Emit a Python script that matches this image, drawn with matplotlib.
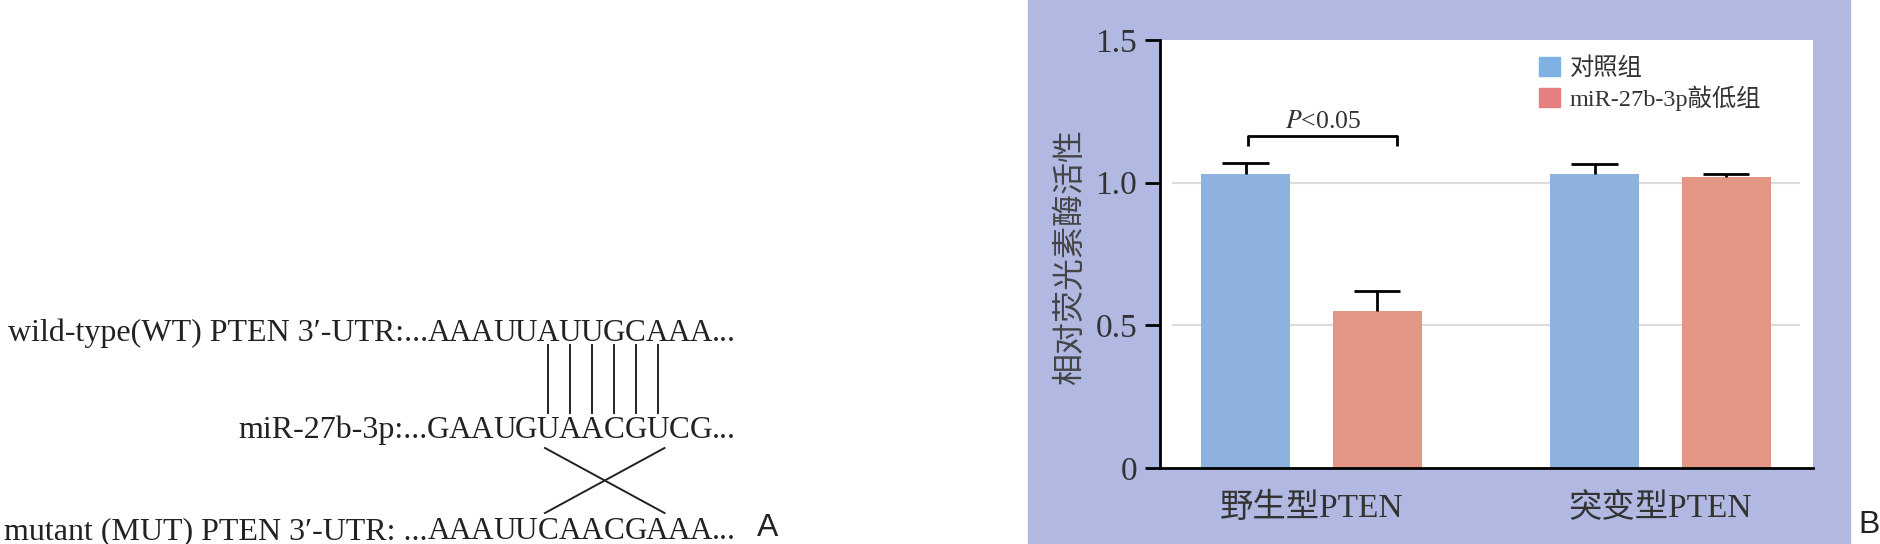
import matplotlib
matplotlib.use("Agg")
import matplotlib.pyplot as plt
from matplotlib.patches import Rectangle, Patch
import numpy as np

plt.rcParams['font.family'] = ['Liberation Serif', 'Noto Sans CJK SC', 'DejaVu Sans']
plt.rcParams['mathtext.fontset'] = 'stix'

# ---------------- data ----------------
groups = ['野生型PTEN', '突变型PTEN']
series_names = ['对照组', 'miR-27b-3p敲低组']
ctrl_vals = [1.03, 1.03]
ctrl_err = [0.04, 0.035]
kd_vals = [0.55, 1.02]
kd_err = [0.07, 0.01]
yticks = [0, 0.5, 1.0, 1.5]
ytick_labels = ['0', '0.5', '1.0', '1.5']
ylabel = '相对荧光素酶活性'
sig_text = '$\\mathit{P}$<0.05'

wt_prefix = 'wild-type(WT) PTEN 3\u2032-UTR:...'
mir_prefix = 'miR-27b-3p:...'
mut_prefix = 'mutant (MUT) PTEN 3\u2032-UTR: ...'
wt_seq = 'AAAUUAUUGCAAA'
mir_seq = 'GAAUGUAACGUCG'
mut_seq = 'AAAUUCAACGAAA'
pair_idx = [5, 6, 7, 8, 9, 10]
cross_idx = (5, 10)

# ---------------- colours ----------------
purple = '#b1b9e3'
bar_blue = '#8db2de'
bar_red = '#e49684'
leg_blue = '#7fb2e3'
leg_red = '#e67f7f'
grid_c = '#dcdcdc'
txt_c = '#333333'

W, H = 1880, 544
fig = plt.figure(figsize=(W / 100, H / 100), dpi=100)


def fx(px):
    return px / W


def fy(py):
    return 1 - py / H


# ---------------- panel A (sequence diagram) ----------------
seq_c = '#222222'
fs_pre = 23
fs_a = 22.5
pitch = 21.9
x0 = 438.5
rows = [(341, wt_prefix, wt_seq), (438, mir_prefix, mir_seq), (539, mut_prefix, mut_seq)]
for base, pre, seq in rows:
    fig.text(fx(428), fy(base), pre, ha='right', va='baseline', fontsize=fs_pre, color=seq_c)
    for i, ch in enumerate(seq):
        fig.text(fx(x0 + i * pitch), fy(base), ch, ha='center', va='baseline',
                 fontsize=fs_a, color=seq_c)
    fig.text(fx(x0 + (len(seq) - 1) * pitch + 11), fy(base), '...', ha='left',
             va='baseline', fontsize=fs_pre, color=seq_c)

for i in pair_idx:
    xx = fx(x0 + i * pitch)
    fig.add_artist(plt.Line2D([xx, xx], [fy(345), fy(413)], color=seq_c, lw=1.4,
                              transform=fig.transFigure))
a, b = cross_idx
xa = fx(x0 + a * pitch - 3)
xb = fx(x0 + b * pitch + 7)
fig.add_artist(plt.Line2D([xa, xb], [fy(448), fy(513)], color=seq_c, lw=1.4,
                          transform=fig.transFigure))
fig.add_artist(plt.Line2D([xb, xa], [fy(448), fy(513)], color=seq_c, lw=1.4,
                          transform=fig.transFigure))
fig.text(fx(757), fy(536), 'A', ha='left', va='baseline', fontsize=23,
         family=['Liberation Sans', 'DejaVu Sans'], color=seq_c)

# ---------------- panel B (bar chart) ----------------
bg = Rectangle((fx(1028), 0), fx(1850) - fx(1028), 1,
               transform=fig.transFigure, color=purple, zorder=-10)
fig.add_artist(bg)

ax = fig.add_axes([fx(1160), fy(468), fx(1813) - fx(1160), (468 - 40) / H])
ax.set_zorder(1)
ax.set_facecolor('white')
x = np.arange(len(groups))
bw = 0.255
off1, off2 = -0.188, 0.19
ax.hlines([0.5, 1.0], -0.398, 1.401, color=grid_c, lw=1.5, zorder=1)
ax.bar(x + off1, ctrl_vals, width=bw, color=bar_blue, zorder=2, label=series_names[0])
ax.bar(x + off2, kd_vals, width=bw, color=bar_red, zorder=2, label=series_names[1])

cap = 0.066
for xs, vals, errs in [(x + off1, ctrl_vals, ctrl_err), (x + off2, kd_vals, kd_err)]:
    vals = np.array(vals)
    errs = np.array(errs)
    ax.vlines(xs, vals, vals + errs, color='black', lw=2, zorder=3)
    ax.hlines(vals + errs, xs - cap, xs + cap, color='black', lw=2, zorder=3)

# significance bracket
bx1, bx2 = -0.18, 0.246
ax.plot([bx1, bx1, bx2, bx2], [1.129, 1.164, 1.164, 1.129], color='black', lw=2,
        solid_capstyle='butt', zorder=3)
ax.text((bx1 + bx2) / 2, 1.19, sig_text, ha='center', va='baseline', fontsize=18.5,
        color=txt_c)

ax.set_xlim(-0.433, 1.438)
ax.set_ylim(0, 1.5)
ax.set_yticks(yticks)
ax.set_yticklabels(ytick_labels)
ax.set_xticks(x)
ax.set_xticklabels(groups)
ax.tick_params(axis='y', length=10.8, width=2, pad=5.5, labelsize=24, labelcolor=txt_c)
ax.tick_params(axis='x', length=0, pad=18, labelsize=24, labelcolor=txt_c)
for s in ['top', 'right']:
    ax.spines[s].set_visible(False)
for s in ['left', 'bottom']:
    ax.spines[s].set_linewidth(2)
    ax.spines[s].set_color('black')

fig.text(fx(1070), fy(257), ylabel, rotation=90, ha='center', va='center',
         fontsize=23, color='#444444', family=['Noto Sans CJK SC'])

handles = [Patch(color=leg_blue), Patch(color=leg_red)]
ax.legend(handles, series_names, loc='upper left',
          bbox_to_anchor=((1539 - 1160) / 653, (468 - 57) / 428),
          frameon=False, fontsize=17.5, handlelength=0.85, handleheight=0.8,
          handletextpad=0.4, labelspacing=0.25, borderaxespad=0, borderpad=0,
          labelcolor=txt_c)

fig.text(fx(1858), fy(533), 'B', ha='left', va='baseline', fontsize=23,
         family=['Liberation Sans', 'DejaVu Sans'], color='#222222')

fig.savefig('out.png', dpi=100)
